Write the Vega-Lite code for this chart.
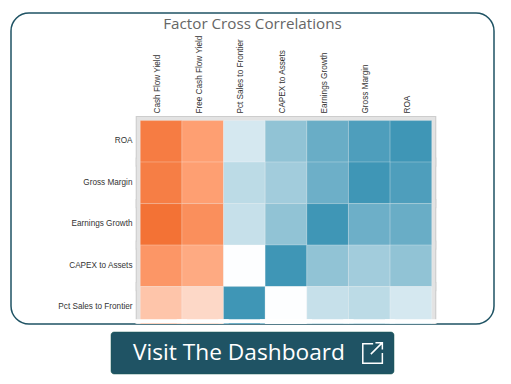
{"$schema":"https://vega.github.io/schema/vega-lite/v6.json","padding":{"left":10,"top":12,"right":0,"bottom":0},"background":"white","bounds":"flush","center":true,"spacing":8,"datasets":{"cells":[
{"a":"Cash Flow Yield","b":"ROA","v":-0.93},{"a":"Free Cash Flow Yield","b":"ROA","v":-0.7},{"a":"Pct Sales to Frontier","b":"ROA","v":0.21},{"a":"CAPEX to Assets","b":"ROA","v":0.57},{"a":"Earnings Growth","b":"ROA","v":0.78},{"a":"Gross Margin","b":"ROA","v":0.92},{"a":"ROA","b":"ROA","v":1},
{"a":"Cash Flow Yield","b":"Gross Margin","v":-0.92},{"a":"Free Cash Flow Yield","b":"Gross Margin","v":-0.7},{"a":"Pct Sales to Frontier","b":"Gross Margin","v":0.34},{"a":"CAPEX to Assets","b":"Gross Margin","v":0.48},{"a":"Earnings Growth","b":"Gross Margin","v":0.76},{"a":"Gross Margin","b":"Gross Margin","v":1},{"a":"ROA","b":"Gross Margin","v":0.92},
{"a":"Cash Flow Yield","b":"Earnings Growth","v":-1},{"a":"Free Cash Flow Yield","b":"Earnings Growth","v":-0.81},{"a":"Pct Sales to Frontier","b":"Earnings Growth","v":0.29},{"a":"CAPEX to Assets","b":"Earnings Growth","v":0.57},{"a":"Earnings Growth","b":"Earnings Growth","v":1},{"a":"Gross Margin","b":"Earnings Growth","v":0.76},{"a":"ROA","b":"Earnings Growth","v":0.78},
{"a":"Cash Flow Yield","b":"CAPEX to Assets","v":-0.76},{"a":"Free Cash Flow Yield","b":"CAPEX to Assets","v":-0.62},{"a":"Pct Sales to Frontier","b":"CAPEX to Assets","v":0},{"a":"CAPEX to Assets","b":"CAPEX to Assets","v":1},{"a":"Earnings Growth","b":"CAPEX to Assets","v":0.57},{"a":"Gross Margin","b":"CAPEX to Assets","v":0.48},{"a":"ROA","b":"CAPEX to Assets","v":0.57},
{"a":"Cash Flow Yield","b":"Pct Sales to Frontier","v":-0.42},{"a":"Free Cash Flow Yield","b":"Pct Sales to Frontier","v":-0.28},{"a":"Pct Sales to Frontier","b":"Pct Sales to Frontier","v":1},{"a":"CAPEX to Assets","b":"Pct Sales to Frontier","v":0},{"a":"Earnings Growth","b":"Pct Sales to Frontier","v":0.29},{"a":"Gross Margin","b":"Pct Sales to Frontier","v":0.34},{"a":"ROA","b":"Pct Sales to Frontier","v":0.21}
]},
"vconcat":[
{"width":483,"height":311,"view":{"stroke":"#1f5364","strokeWidth":1.5,"cornerRadius":18,"fill":"white"},
"title":{"text":"Factor Cross Correlations","anchor":"middle","offset":-19,"font":"Open Sans","fontSize":15.2,"fontWeight":"normal","color":"#666666"},
"data":{"name":"cells"},
"encoding":{
"x":{"field":"a","type":"nominal","sort":null,"title":null,"scale":{"type":"band","domain":["Cash Flow Yield","Free Cash Flow Yield","Pct Sales to Frontier","CAPEX to Assets","Earnings Growth","Gross Margin","ROA"],"range":[129.3,420.7],"paddingInner":0,"paddingOuter":0},
"axis":{"orient":"top","offset":-100,"ticks":false,"domain":false,"grid":false,"labelAngle":-90,"labelFont":"Liberation Sans","labelFontSize":8.2,"labelColor":"#333333","labelPadding":0,"labelOffset":-3,"labelOverlap":false,"labelLimit":200}},
"y":{"field":"b","type":"nominal","sort":null,"title":null,"scale":{"type":"band","domain":["ROA","Gross Margin","Earnings Growth","CAPEX to Assets","Pct Sales to Frontier"],"range":[107.6,315.1],"paddingInner":0,"paddingOuter":0},
"axis":{"orient":"left","offset":-121,"ticks":false,"domain":false,"grid":false,"labelFont":"Liberation Sans","labelFontSize":8.2,"labelColor":"#333333","labelPadding":0,"labelOverlap":false,"labelLimit":200}}},
"layer":[
{"mark":{"type":"rect","clip":true,"fill":"#cdcdcd","stroke":"#cdcdcd","strokeWidth":9.2}},
{"mark":{"type":"rect","clip":true,"fill":"#e3e3e3","stroke":"#e3e3e3","strokeWidth":7}},
{"mark":{"type":"rect","clip":true,"stroke":"#ffffff","strokeOpacity":0.2,"strokeWidth":1},
"encoding":{"fill":{"field":"v","type":"quantitative","legend":null,"scale":{"domain":[-1,-0.7,0,1],"range":["#f37235","#fe9f72","#fdfeff","#3f96b6"],"interpolate":"rgb"}}}},
{"transform":[{"filter":"datum.b === 'Pct Sales to Frontier'"}],"mark":{"type":"rect","clip":true,"fill":"white","width":52,"height":4,"yOffset":14}}
]},
{"width":283,"height":42,"view":{"stroke":"#1a5a50","strokeWidth":0.5,"cornerRadius":3,"fill":"#1f5364"},
"data":{"values":[{"part":"Visit The Dashboard","label":"Visit The Dashboard"},{"part":"icon","label":""}]},
"encoding":{"x":{"field":"part","type":"nominal","sort":null,"axis":null,"scale":{"type":"point","padding":0,"domain":["Visit The Dashboard","icon"],"range":[128,261]}}},
"layer":[
{"mark":{"type":"text","font":"Open Sans","fontSize":22.7,"color":"white","align":"center","baseline":"middle"},"encoding":{"text":{"field":"label","type":"nominal"}}},
{"transform":[{"filter":"datum.part === 'icon'"}],"mark":{"type":"point","filled":false,"stroke":"white","strokeWidth":1.5,"opacity":1,"size":530,"shape":"M0.1,-0.8L-0.8,-0.8L-0.8,0.9L0.9,0.9L0.9,0M-0.1,0.1L0.9,-0.9M0.3,-0.9L0.9,-0.9L0.9,-0.3"}}
]}
]}
